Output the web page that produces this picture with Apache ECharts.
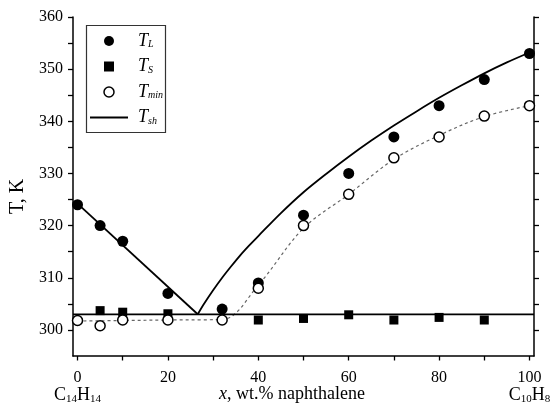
<!DOCTYPE html>
<html>
<head>
<meta charset="utf-8">
<script src="https://cdn.jsdelivr.net/npm/echarts@6/dist/echarts.min.js"></script>
<style>
html,body{margin:0;padding:0;background:#fff;}
#c{width:553px;height:407px;}
</style>
</head>
<body>
<div id="c"></div>
<script>
// ---- data ----
const xL   = [0, 5, 10, 20, 32, 40, 50, 60, 70, 80, 90, 100];
const TL   = [324, 320, 317, 307, 304, 309, 322, 330, 337, 343, 348, 353];
const xS   = [5, 10, 20, 40, 50, 60, 70, 80, 90];
const TS   = [303.7, 303.4, 303.1, 301.9, 302.2, 302.9, 301.9, 302.4, 301.9];
const xMin = [0, 5, 10, 20, 32, 40, 50, 60, 70, 80, 90, 100];
const Tmin = [301.8, 300.8, 301.9, 301.9, 301.9, 308, 320, 326, 333, 337, 341, 343];
// Tsh (solid lines)
const xShLeft  = [0, 26.6];
const TshLeft  = [324.2, 303];
const xShRight = [26.6, 28, 30, 32, 34, 36, 38, 40, 45, 50, 55, 60, 65, 70, 75, 80, 85, 90, 95, 100];
const TshRight = [303, 305.0, 307.6, 310.0, 312.2, 314.3, 316.2, 318.0, 322.4, 326.4, 329.9, 333.2, 336.3, 339.2, 341.9, 344.5, 346.9, 349.2, 351.3, 353.2];
const xShFlat  = [-1, 101];
const TshFlat  = [303, 303];
// dashed fit through Tmin
const xFit = [0, 10, 20, 32, 40, 50, 60, 70, 80, 90, 100];
const TFit = [301.7, 301.8, 301.9, 302, 308.6, 319.5, 326, 332.7, 337.3, 340.9, 343];
// axes
const xTicks  = [0, 10, 20, 30, 40, 50, 60, 70, 80, 90, 100];
const xLabels = [0, 20, 40, 60, 80, 100];
const yLabels = [300, 310, 320, 330, 340, 350, 360];
const yTicks  = [300, 305, 310, 315, 320, 325, 330, 335, 340, 345, 350, 355, 360];

const pairs = (xs, ys) => xs.map((x, i) => [x, ys[i]]);
const FONT = 'Liberation Serif';

const chart = echarts.init(document.getElementById('c'), null, {renderer: 'canvas'});
chart.setOption({
  animation: false,
  backgroundColor: '#fff',
  textStyle: {fontFamily: FONT, color: '#000'},
  grid: {left: 73, right: 19, top: 17, bottom: 51, containLabel: false, outerBoundsMode: 'none'},
  xAxis: {
    type: 'value', min: -1, max: 101,
    name: '{i|x}, wt.% naphthalene',
    nameLocation: 'middle', nameGap: 29, nameMoveOverlap: false,
    nameTextStyle: {fontFamily: FONT, fontSize: 18, color: '#000', padding: [0, 23, 0, 0],
      rich: {i: {fontFamily: FONT, fontSize: 18, fontStyle: 'italic', color: '#000'}}},
    axisLine: {show: true, onZero: false, lineStyle: {color: '#000', width: 1.5}},
    axisTick: {show: true, inside: false, length: 4.5, customValues: xTicks, lineStyle: {color: '#000', width: 1.3}},
    axisLabel: {
      show: true, customValues: xLabels, margin: 13, color: '#000', fontFamily: FONT, fontSize: 16,
      formatter: v => {
        if (v === 0) return '{n|0}\n{c|C}{s|14}{c|H}{s|14}';
        if (v === 100) return '{n|100}\n{c|C}{s|10}{c|H}{s|8}';
        return '{n|' + v + '}';
      },
      rich: {
        n: {fontFamily: FONT, fontSize: 16, lineHeight: 18, color: '#000'},
        c: {fontFamily: FONT, fontSize: 18, lineHeight: 17, color: '#000'},
        s: {fontFamily: FONT, fontSize: 11, lineHeight: 17, color: '#000', padding: [8, 0, 0, 0]}
      }
    },
    splitLine: {show: false}
  },
  yAxis: [{
    type: 'value', min: 295, max: 360, position: 'left',
    name: 'T, K', nameLocation: 'middle', nameGap: 45, nameRotate: 90, nameMoveOverlap: false,
    nameTextStyle: {fontFamily: FONT, fontSize: 20, color: '#000', padding: [0, 20, 0, 0]},
    axisLine: {show: true, onZero: false, lineStyle: {color: '#000', width: 1.5}},
    axisTick: {show: true, inside: false, length: 5, customValues: yTicks, lineStyle: {color: '#000', width: 1.3}},
    axisLabel: {show: true, customValues: yLabels, margin: 10, color: '#000', fontFamily: FONT, fontSize: 16},
    splitLine: {show: false}
  }, {
    type: 'value', min: 295, max: 360, position: 'right',
    axisLine: {show: true, onZero: false, lineStyle: {color: '#000', width: 1.5}},
    axisTick: {show: true, inside: false, length: 5, customValues: yTicks, lineStyle: {color: '#000', width: 1.3}},
    axisLabel: {show: false},
    splitLine: {show: false}
  }],
  legend: {
    orient: 'vertical', left: 90, top: 32, padding: 0,
    itemWidth: 38, itemHeight: 10, itemGap: 7.5,
    selectedMode: false,
    textStyle: {fontFamily: FONT, fontSize: 18, color: '#000', lineHeight: 18, padding: [0, 0, 0, 5],
      rich: {
        i: {fontFamily: FONT, fontSize: 18, fontStyle: 'italic', color: '#000'},
        s: {fontFamily: FONT, fontSize: 10, fontStyle: 'italic', color: '#000', padding: [7, 0, 0, 0]}
      }},
    formatter: name => ({TL: '{i|T}{s|L}', TS: '{i|T}{s|S}', Tmin: '{i|T}{s|min}', Tsh: '{i|T}{s|sh}'})[name],
    data: [
      {name: 'TL', icon: 'circle', itemStyle: {color: '#000', borderWidth: 0, opacity: 1}},
      {name: 'TS', icon: 'path://M0,0H10V10H0Z', itemStyle: {color: '#000', borderWidth: 0, opacity: 1}},
      {name: 'Tmin', icon: 'circle', itemStyle: {color: '#fff', borderColor: '#000', borderWidth: 1.5, opacity: 1}},
      {name: 'Tsh', icon: 'path://M0,0H38V1.8H0Z', itemStyle: {color: '#000', borderWidth: 0, opacity: 1}}
    ]
  },
  graphic: [{
    type: 'rect', left: 84, top: 23, z: 10,
    shape: {width: 79, height: 107},
    style: {fill: 'none', stroke: '#333', lineWidth: 1.2}
  }],
  series: [
    {name: 'fit', type: 'line', data: pairs(xFit, TFit), symbol: 'none', smooth: 0.35, z: 1,
     lineStyle: {color: '#666', width: 1.2, type: [3, 3]}},
    {name: 'Tsh', type: 'line', data: pairs(xShFlat, TshFlat), symbol: 'none', z: 2,
     itemStyle: {color: '#000'}, lineStyle: {color: '#000', width: 1.8}},
    {name: 'Tsh', type: 'line', data: pairs(xShLeft, TshLeft), symbol: 'none', z: 2,
     itemStyle: {color: '#000'}, lineStyle: {color: '#000', width: 1.8}},
    {name: 'Tsh', type: 'line', data: pairs(xShRight, TshRight), symbol: 'none', smooth: 0.3, z: 2,
     itemStyle: {color: '#000'}, lineStyle: {color: '#000', width: 1.8}},
    {name: 'TS', type: 'scatter', data: pairs(xS, TS), symbol: 'rect', symbolSize: 9, z: 3,
     itemStyle: {color: '#000', opacity: 1}},
    {name: 'Tmin', type: 'scatter', data: pairs(xMin, Tmin), symbol: 'circle', symbolSize: 10, z: 4,
     itemStyle: {color: '#fff', borderColor: '#000', borderWidth: 1.5, opacity: 1}},
    {name: 'TL', type: 'scatter', data: pairs(xL, TL), symbol: 'circle', symbolSize: 11, z: 3,
     itemStyle: {color: '#000', opacity: 1}}
  ]
});
</script>
</body>
</html>
